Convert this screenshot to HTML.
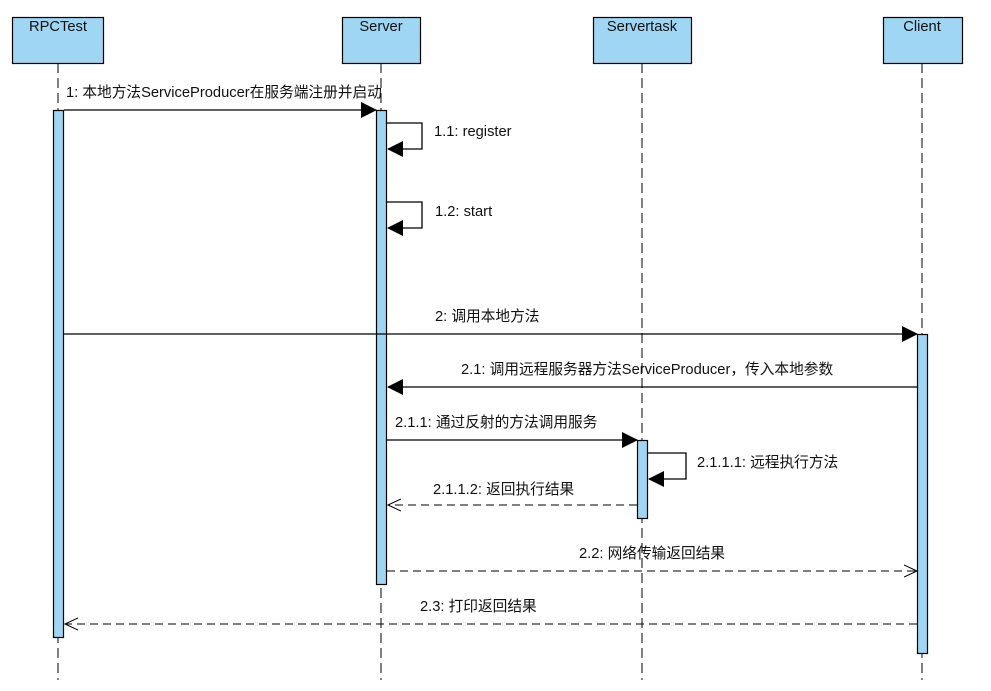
<!DOCTYPE html>
<html><head><meta charset="utf-8"><style>
html,body{margin:0;padding:0;background:#fff;}
svg text{font-family:"Liberation Sans","Noto Sans CJK SC",sans-serif;font-size:14.7px;fill:#111;}
</style></head><body>
<svg width="991" height="686" xmlns="http://www.w3.org/2000/svg">
<defs>
<marker id="f" markerWidth="16" markerHeight="16" refX="15" refY="8" orient="auto" markerUnits="userSpaceOnUse"><path d="M0,0 L16,8 L0,16 z" fill="#000"/></marker>
<marker id="o" markerWidth="14" markerHeight="14" refX="13" refY="7" orient="auto" markerUnits="userSpaceOnUse"><path d="M0,1 L13,7 L0,13" fill="none" stroke="#000" stroke-width="1"/></marker>
</defs>
<g stroke="#000" stroke-width="1" stroke-dasharray="10,5">
<line x1="58" y1="63" x2="58" y2="680"/>
<line x1="381" y1="63" x2="381" y2="680"/>
<line x1="642" y1="63" x2="642" y2="680"/>
<line x1="922" y1="63" x2="922" y2="680"/>
</g>
<g fill="#9fd6f3" stroke="#000" stroke-width="1.2">
<rect x="12.5" y="17.5" width="91" height="46"/>
<rect x="342.5" y="17.5" width="78" height="46"/>
<rect x="593.5" y="17.5" width="98" height="46"/>
<rect x="883.5" y="17.5" width="79" height="46"/>
</g>
<text x="58" y="31" text-anchor="middle">RPCTest</text>
<text x="381" y="31" text-anchor="middle">Server</text>
<text x="642" y="31" text-anchor="middle">Servertask</text>
<text x="922" y="31" text-anchor="middle">Client</text>
<g fill="#9fd6f3" stroke="#000" stroke-width="1.2">
<rect x="53.5" y="110.5" width="10" height="527"/>
<rect x="376.5" y="110.5" width="10" height="474"/>
<rect x="637.5" y="440.5" width="10" height="78"/>
<rect x="917.5" y="334.5" width="10" height="319"/>
</g>
<g stroke="#000" stroke-width="1.3" fill="none">
<line x1="64" y1="110" x2="376" y2="110" marker-end="url(#f)"/>
<polyline points="387,123 422,123 422,149 388,149" marker-end="url(#f)"/>
<polyline points="387,202 422,202 422,228 388,228" marker-end="url(#f)"/>
<line x1="64" y1="334" x2="917" y2="334" marker-end="url(#f)"/>
<line x1="917" y1="387" x2="388" y2="387" marker-end="url(#f)"/>
<line x1="387" y1="440" x2="637" y2="440" marker-end="url(#f)"/>
<polyline points="648,453 686,453 686,479 649,479" marker-end="url(#f)"/>
</g>
<g stroke="#000" stroke-width="1" fill="none" stroke-dasharray="8,5">
<line x1="637" y1="505" x2="388" y2="505" marker-end="url(#o)"/>
<line x1="387" y1="571" x2="917" y2="571" marker-end="url(#o)"/>
<line x1="917" y1="624" x2="65" y2="624" marker-end="url(#o)"/>
</g>
<text x="66" y="97">1: 本地方法ServiceProducer在服务端注册并启动</text>
<text x="434" y="136">1.1: register</text>
<text x="435" y="216">1.2: start</text>
<text x="435" y="321">2: 调用本地方法</text>
<text x="461" y="374">2.1: 调用远程服务器方法ServiceProducer，传入本地参数</text>
<text x="395" y="427">2.1.1: 通过反射的方法调用服务</text>
<text x="697" y="467">2.1.1.1: 远程执行方法</text>
<text x="433" y="494">2.1.1.2: 返回执行结果</text>
<text x="579" y="558">2.2: 网络传输返回结果</text>
<text x="420" y="611">2.3: 打印返回结果</text>
</svg>
</body></html>
